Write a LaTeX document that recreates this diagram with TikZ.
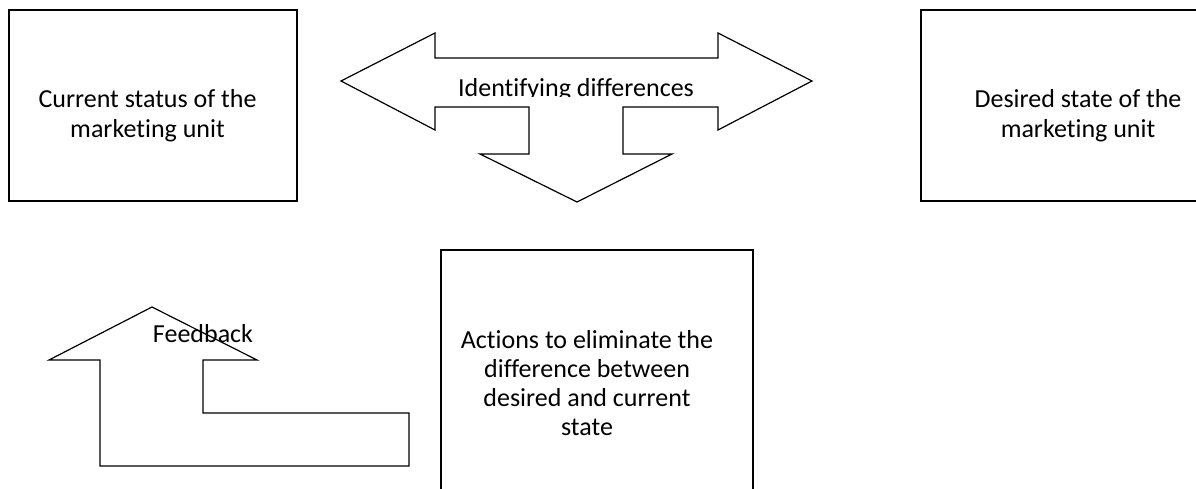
\documentclass[tikz,border=0pt]{standalone}
\usepackage{fontspec}
\setmainfont{Carlito}[Ligatures=NoCommon]

\begin{document}
\begin{tikzpicture}[x=0.75pt,y=-0.75pt,
    box/.style={draw,line width=0.9pt,inner sep=0pt},
    txt/.style={inner sep=0pt,align=center,font=\fontsize{19.5}{22.5}\selectfont},
    blockarrow/.style={draw,line width=0.9pt,line join=miter}]
  \useasboundingbox (0,0) rectangle (1196,489);
  \clip (0,0) rectangle (1196,489);
  % boxes
  \node[box,minimum width=216pt,minimum height=143.25pt] (cur) at (153,105.5) {};
  \node[box,minimum width=243pt,minimum height=143.25pt] (des) at (1083,105.5) {};
  \node[box,minimum width=234pt,minimum height=202.5pt] (act) at (597,385) {};
  % box texts
  \node[txt] (curtext) at (147.5,116) {Current status of the\\marketing unit};
  \node[txt] (destext) at (1078,116) {Desired state of the\\marketing unit};
  \node[txt,font=\fontsize{19.5}{21.75}\selectfont] (acttext) at (587,383.5)
    {Actions to eliminate the\\difference between\\desired and current\\state};
  % block arrows
  \draw[blockarrow] (341,81) -- (435,33) -- (435,58) -- (718,58) -- (718,33)
    -- (812,81) -- (718,130) -- (718,107) -- (623,107) -- (623,154)
    -- (672,154) -- (577,202) -- (480,154) -- (529,154) -- (529,107)
    -- (435,107) -- (435,130) -- cycle;
  \draw[blockarrow] (152,307) -- (257,360) -- (203,360) -- (203,413)
    -- (409,413) -- (409,466) -- (100,466) -- (100,360) -- (49,360) -- cycle;
  % arrow texts
  \begin{scope}
    \clip (300,0) rectangle (900,96);
    \node[txt,anchor=base] (difftext) at (576,96) {Identifying differences};
  \end{scope}
  \node[txt,anchor=base] (feedtext) at (203,342) {Feedback};
\end{tikzpicture}
\end{document}
